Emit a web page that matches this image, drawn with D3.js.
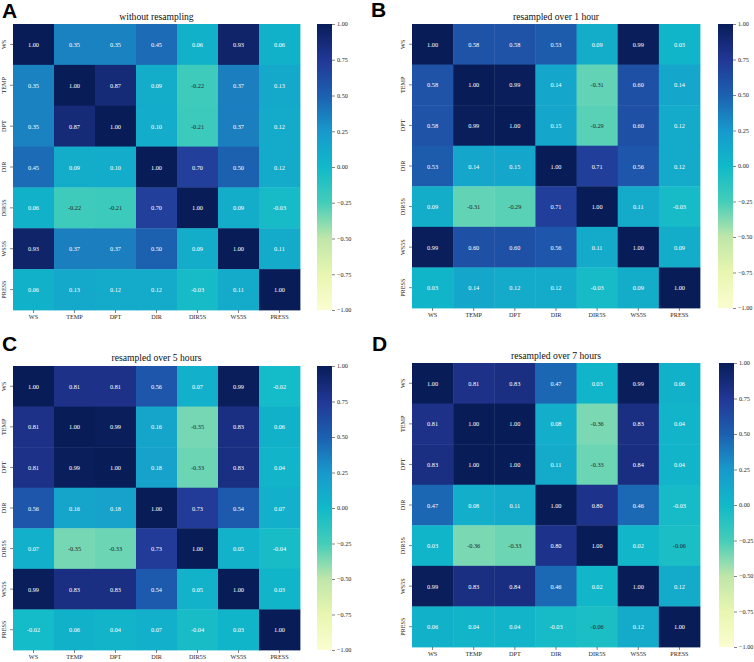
<!DOCTYPE html>
<html>
<head>
<meta charset="utf-8">
<script src="https://cdn.jsdelivr.net/npm/d3@7"></script>
<style>
  html, body { margin: 0; padding: 0; background: #fff; }
  svg { display: block; }
  .serif { font-family: "Liberation Serif", "Times New Roman", serif; }
  .letter { font-family: "Liberation Sans", Arial, sans-serif; font-weight: bold; }
</style>
</head>
<body>
<svg id="chart" width="754" height="662"></svg>
<script>
// ---- data ----
const variables = ["WS", "TEMP", "DPT", "DIR", "DIR5S", "WS5S", "PRESS"];
const panelLetters = ["A", "B", "C", "D"];
const panelTitles = ["without resampling", "resampled over 1 hour", "resampled over 5 hours", "resampled over 7 hours"];
const colorbarTicks = [1.00, 0.75, 0.50, 0.25, 0.00, -0.25, -0.50, -0.75, -1.00];
// matplotlib YlGnBu anchors (used for the text-contrast rule)
const ylgnbu = ["#ffffd9", "#edf8b1", "#c7e9b4", "#7fcdbb", "#41b6c4", "#1d91c0", "#225ea8", "#253494", "#081d58"];
// fill palette as it appears in the reference picture (more saturated)
const fillPalette = ["#fbfdd0", "#e8f6b0", "#bfe6a9", "#44cdb9", "#10b9c9", "#1899cc", "#1c60b0", "#223796", "#081d58"];

const corrA = [
  [1.00, 0.35, 0.35, 0.45, 0.06, 0.93, 0.06],
  [0.35, 1.00, 0.87, 0.09, -0.22, 0.37, 0.13],
  [0.35, 0.87, 1.00, 0.10, -0.21, 0.37, 0.12],
  [0.45, 0.09, 0.10, 1.00, 0.70, 0.50, 0.12],
  [0.06, -0.22, -0.21, 0.70, 1.00, 0.09, -0.03],
  [0.93, 0.37, 0.37, 0.50, 0.09, 1.00, 0.11],
  [0.06, 0.13, 0.12, 0.12, -0.03, 0.11, 1.00]
];
const corrB = [
  [1.00, 0.58, 0.58, 0.53, 0.09, 0.99, 0.03],
  [0.58, 1.00, 0.99, 0.14, -0.31, 0.60, 0.14],
  [0.58, 0.99, 1.00, 0.15, -0.29, 0.60, 0.12],
  [0.53, 0.14, 0.15, 1.00, 0.71, 0.56, 0.12],
  [0.09, -0.31, -0.29, 0.71, 1.00, 0.11, -0.03],
  [0.99, 0.60, 0.60, 0.56, 0.11, 1.00, 0.09],
  [0.03, 0.14, 0.12, 0.12, -0.03, 0.09, 1.00]
];
const corrC = [
  [1.00, 0.81, 0.81, 0.56, 0.07, 0.99, -0.02],
  [0.81, 1.00, 0.99, 0.16, -0.35, 0.83, 0.06],
  [0.81, 0.99, 1.00, 0.18, -0.33, 0.83, 0.04],
  [0.56, 0.16, 0.18, 1.00, 0.73, 0.54, 0.07],
  [0.07, -0.35, -0.33, 0.73, 1.00, 0.05, -0.04],
  [0.99, 0.83, 0.83, 0.54, 0.05, 1.00, 0.03],
  [-0.02, 0.06, 0.04, 0.07, -0.04, 0.03, 1.00]
];
const corrD = [
  [1.00, 0.81, 0.83, 0.47, 0.03, 0.99, 0.06],
  [0.81, 1.00, 1.00, 0.08, -0.36, 0.83, 0.04],
  [0.83, 1.00, 1.00, 0.11, -0.33, 0.84, 0.04],
  [0.47, 0.08, 0.11, 1.00, 0.80, 0.46, -0.03],
  [0.03, -0.36, -0.33, 0.80, 1.00, 0.02, -0.06],
  [0.99, 0.83, 0.84, 0.46, 0.02, 1.00, 0.12],
  [0.06, 0.04, 0.04, -0.03, -0.06, 0.12, 1.00]
];
const matrices = [corrA, corrB, corrC, corrD];

// ---- layout (positions only) ----
const layout = [
  { hx: 13,  hy: 24,  hw: 287, hh: 286, cbx: 317, lx: 2,   ly: 18,  ty: 20 },
  { hx: 412, hy: 24,  hw: 288, hh: 284, cbx: 718, lx: 371, ly: 17,  ty: 20 },
  { hx: 13,  hy: 366, hw: 287, hh: 284, cbx: 317, lx: 2,   ly: 351, ty: 361 },
  { hx: 412, hy: 363, hw: 288, hh: 284, cbx: 719, lx: 372, ly: 351, ty: 359 }
];
const cbw = 15;

const stops = d3.range(9).map(i => -1 + i * 2 / 8);
const color = d3.scaleLinear().domain(stops).range(fillPalette).interpolate(d3.interpolateRgb).clamp(true);
const refColor = d3.scaleLinear().domain(stops).range(ylgnbu).interpolate(d3.interpolateRgb).clamp(true);

function luminance(c) {
  const rgb = d3.rgb(c);
  const lin = v => { v /= 255; return v <= 0.03928 ? v / 12.92 : Math.pow((v + 0.055) / 1.055, 2.4); };
  return 0.2126 * lin(rgb.r) + 0.7152 * lin(rgb.g) + 0.0722 * lin(rgb.b);
}

const svg = d3.select("#chart");
const defs = svg.append("defs");
const grad = defs.append("linearGradient").attr("id", "cbgrad")
  .attr("x1", 0).attr("y1", 1).attr("x2", 0).attr("y2", 0);
fillPalette.forEach((c, i) => grad.append("stop").attr("offset", i / 8).attr("stop-color", c));

const fmt = d3.format(".2f");
const annFmt = v => fmt(v).replace("\u2212", "-");

matrices.forEach((m, p) => {
  const L = layout[p];
  const g = svg.append("g");

  const x = d3.scaleBand().domain(variables).range([L.hx, L.hx + L.hw]);
  const y = d3.scaleBand().domain(variables).range([L.hy, L.hy + L.hh]);

  const cells = [];
  m.forEach((row, i) => row.forEach((v, j) => cells.push({ r: variables[i], c: variables[j], v })));

  g.selectAll("rect.cell").data(cells).enter().append("rect")
    .attr("class", "cell")
    .attr("x", d => x(d.c))
    .attr("y", d => y(d.r))
    .attr("width", x.bandwidth() + 0.4)
    .attr("height", y.bandwidth() + 0.4)
    .attr("fill", d => color(d.v));

  g.selectAll("text.ann").data(cells).enter().append("text")
    .attr("class", "ann serif")
    .attr("x", d => x(d.c) + x.bandwidth() / 2)
    .attr("y", d => y(d.r) + y.bandwidth() / 2)
    .attr("text-anchor", "middle")
    .attr("dominant-baseline", "central")
    .attr("font-size", 6.3)
    .attr("fill", d => luminance(refColor(d.v)) > 0.408 ? "#262626" : "#ffffff")
    .text(d => annFmt(d.v));

  // x axis
  const xa = g.append("g").attr("transform", `translate(0,${L.hy + L.hh})`)
    .call(d3.axisBottom(x).tickSize(3).tickPadding(2));
  xa.select(".domain").remove();
  xa.selectAll("line").attr("stroke", "#333").attr("stroke-width", 0.6);
  xa.selectAll("text").attr("class", "serif").attr("font-size", 6.2).attr("fill", "#262626");

  // y axis
  const ya = g.append("g").attr("transform", `translate(${L.hx},0)`)
    .call(d3.axisLeft(y).tickSize(3).tickPadding(2));
  ya.select(".domain").remove();
  ya.selectAll("line").attr("stroke", "#333").attr("stroke-width", 0.6);
  ya.selectAll("text").attr("class", "serif").attr("font-size", 6.2).attr("fill", "#262626")
    .attr("text-anchor", "middle")
    .attr("x", 0)
    .attr("transform", "translate(-5.5,0) rotate(-90)")
    .attr("dy", "-0.25em");

  // title
  g.append("text")
    .attr("class", "serif")
    .attr("x", L.hx + L.hw / 2)
    .attr("y", L.ty)
    .attr("text-anchor", "middle")
    .attr("font-size", 9.6)
    .attr("fill", "#111")
    .text(panelTitles[p]);

  // panel letter
  g.append("text")
    .attr("class", "letter")
    .attr("x", L.lx)
    .attr("y", L.ly)
    .attr("font-size", 21)
    .attr("fill", "#000")
    .text(panelLetters[p]);

  // colorbar
  g.append("rect")
    .attr("x", L.cbx).attr("y", L.hy)
    .attr("width", cbw).attr("height", L.hh)
    .attr("fill", "url(#cbgrad)");
  const cs = d3.scaleLinear().domain([-1, 1]).range([L.hy + L.hh, L.hy]);
  const ca = g.append("g").attr("transform", `translate(${L.cbx + cbw},0)`)
    .call(d3.axisRight(cs).tickValues(colorbarTicks).tickFormat(fmt).tickSize(3).tickPadding(2));
  ca.select(".domain").remove();
  ca.selectAll("line").attr("stroke", "#333").attr("stroke-width", 0.6);
  ca.selectAll("text").attr("class", "serif").attr("font-size", 6.2).attr("fill", "#262626");
});
</script>
</body>
</html>
